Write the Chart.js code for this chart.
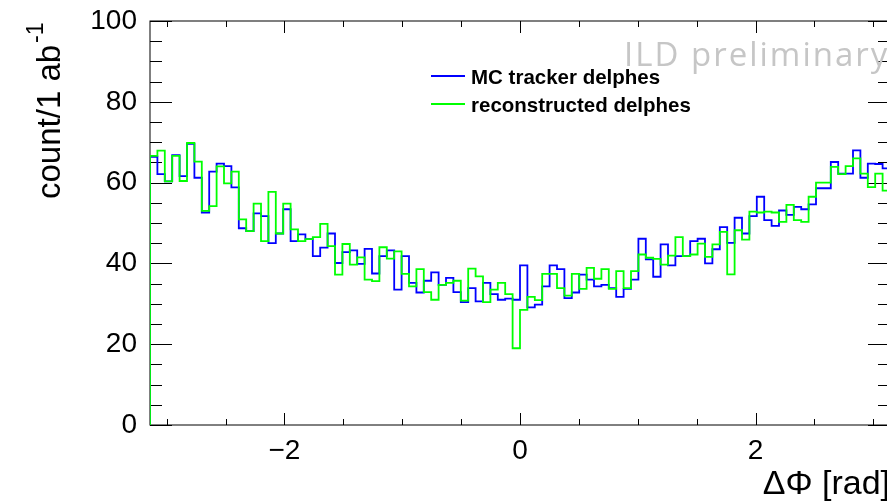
<!DOCTYPE html>
<html>
<head>
<meta charset="utf-8">
<title>Delta Phi distribution</title>
<script src="https://cdn.jsdelivr.net/npm/chart.js@4.4.1/dist/chart.umd.min.js"></script>
<style>
  html, body { margin: 0; padding: 0; background: #fff; overflow: hidden; }
  #wrap { width: 887px; height: 502px; overflow: hidden; }
  canvas { display: block; }
</style>
</head>
<body>
<div id="wrap"><canvas id="c" width="900" height="502"></canvas></div>
<script>
// Histogram binning: 100 bins over [-pi, pi]
const X_MIN = -Math.PI;
const X_MAX = Math.PI;

// Counts per bin (count / 1 ab^-1)
const mcTracker = [
  66.4, 62.1, 60.3, 66.8, 61.6, 69.6, 61.2, 52.6, 62.7, 64.7,
  64.1, 58.8, 48.7, 48.0, 52.4, 51.7, 45.0, 47.4, 53.4, 45.5,
  47.2, 46.0, 41.8, 43.9, 47.4, 40.1, 42.8, 43.2, 39.9, 43.6,
  37.5, 41.8, 43.2, 33.5, 41.8, 35.2, 32.8, 35.7, 37.8, 34.7,
  36.4, 32.9, 30.4, 33.9, 30.6, 35.2, 32.4, 31.0, 31.3, 31.0,
  39.5, 29.1, 29.8, 34.3, 39.5, 38.6, 31.4, 32.8, 37.2, 36.0,
  34.3, 34.7, 33.9, 31.7, 33.7, 36.0, 46.1, 41.0, 36.7, 44.7,
  39.5, 41.8, 41.8, 45.5, 46.1, 40.0, 43.5, 49.0, 45.1, 51.3,
  47.4, 51.7, 56.5, 50.7, 49.3, 53.1, 52.0, 54.0, 53.4, 54.6,
  58.6, 58.6, 65.1, 62.2, 62.2, 68.0, 61.2, 64.7, 64.6, 63.5
];
const reconstructed = [
  66.6, 67.9, 60.3, 66.6, 60.4, 69.8, 65.2, 53.0, 54.2, 64.0,
  59.8, 62.7, 50.9, 48.0, 54.8, 45.5, 57.7, 47.4, 54.8, 48.4,
  45.5, 46.0, 46.5, 49.8, 44.3, 37.2, 44.8, 39.7, 41.5, 36.0,
  35.6, 44.0, 41.2, 43.0, 37.4, 34.3, 38.6, 32.9, 31.0, 34.7,
  35.2, 35.7, 30.8, 38.7, 36.8, 30.4, 33.5, 35.2, 32.4, 19.0,
  28.5, 31.7, 30.9, 37.4, 37.4, 33.9, 32.0, 37.4, 33.7, 38.9,
  36.2, 38.6, 33.7, 38.1, 33.9, 38.1, 42.2, 41.4, 41.1, 39.7,
  41.9, 46.5, 41.8, 42.2, 44.9, 41.6, 44.7, 47.8, 37.3, 48.2,
  45.9, 52.8, 52.6, 52.8, 52.6, 50.3, 54.5, 50.7, 50.3, 56.5,
  60.0, 60.0, 63.9, 62.1, 64.1, 66.0, 62.2, 58.9, 62.2, 58.0
];

// Axis ticks
const xTickLabels = [-2, 0, 2];
const xMinorTicks = [-3, -2.5, -2, -1.5, -1, -0.5, 0, 0.5, 1, 1.5, 2, 2.5, 3];
const yTickLabels = [0, 20, 40, 60, 80, 100];
const yMinorTicks = [0, 5, 10, 15, 20, 25, 30, 35, 40, 45, 50, 55, 60, 65, 70, 75, 80, 85, 90, 95, 100];

const seriesNames = ['MC tracker delphes', 'reconstructed delphes'];
const seriesColors = ['#0000ff', '#00ff00'];

// Outline of a histogram: rise from zero at the first edge, one step per bin, drop at the last edge
function histogramOutline(values) {
  const width = (X_MAX - X_MIN) / values.length;
  const pts = [{ x: X_MIN, y: 0 }];
  values.forEach((v, i) => pts.push({ x: X_MIN + i * width, y: v }));
  pts.push({ x: X_MAX, y: values[values.length - 1] });
  pts.push({ x: X_MAX, y: 0 });
  return pts;
}

// Frame with inward ticks on all four sides, legend, watermark and axis title
const framePlugin = {
  id: 'frame',
  beforeDatasetsDraw(chart) {
    const { ctx, chartArea: a, scales: { x, y } } = chart;
    ctx.save();
    ctx.strokeStyle = '#000';
    ctx.lineWidth = 1;
    ctx.strokeRect(a.left, a.top, a.right - a.left, a.bottom - a.top);
    ctx.beginPath();
    yMinorTicks.forEach(v => {
      const py = Math.round(y.getPixelForValue(v)) + 0.5;
      const len = yTickLabels.includes(v) ? 22 : 12;
      ctx.moveTo(a.left, py); ctx.lineTo(a.left + len, py);
      ctx.moveTo(a.right, py); ctx.lineTo(a.right - len, py);
    });
    xMinorTicks.forEach(v => {
      const px = Math.round(x.getPixelForValue(v)) + 0.5;
      const len = xTickLabels.includes(v) ? 12 : 6;
      ctx.moveTo(px, a.bottom); ctx.lineTo(px, a.bottom - len);
      ctx.moveTo(px, a.top); ctx.lineTo(px, a.top + len);
    });
    ctx.stroke();
    ctx.restore();
  },
  afterDraw(chart) {
    const { ctx } = chart;
    ctx.save();

    // Legend
    ctx.lineWidth = 1.8;
    const legendRows = [76, 104];
    seriesNames.forEach((name, i) => {
      ctx.strokeStyle = seriesColors[i];
      ctx.beginPath();
      ctx.moveTo(431, legendRows[i]);
      ctx.lineTo(465, legendRows[i]);
      ctx.stroke();
      ctx.fillStyle = '#000';
      ctx.font = 'bold 20.5px "Liberation Sans", Arial, sans-serif';
      ctx.textAlign = 'left';
      ctx.textBaseline = 'alphabetic';
      ctx.fillText(name, 471, legendRows[i] + 7.5);
    });

    // Watermark
    ctx.fillStyle = '#c6c6c6';
    ctx.font = '33px "Open Sans", sans-serif';
    ctx.letterSpacing = '2px';
    ctx.fillText('ILD preliminary', 624, 66);
    ctx.letterSpacing = '0px';

    // Vertical axis title with superscript
    ctx.translate(60, 199);
    ctx.rotate(-Math.PI / 2);
    ctx.fillStyle = '#000';
    ctx.font = '33px "Liberation Sans", Arial, sans-serif';
    const main = 'count/1 ab';
    ctx.fillText(main, 0, 0);
    const w = ctx.measureText(main).width;
    ctx.font = '23px "Liberation Sans", Arial, sans-serif';
    ctx.fillText('-1', w + 2, -17);

    ctx.restore();
  }
};

new Chart(document.getElementById('c'), {
  type: 'line',
  data: {
    datasets: [
      {
        label: seriesNames[0],
        data: histogramOutline(mcTracker),
        borderColor: seriesColors[0],
        borderWidth: 1.8,
        pointRadius: 0,
        stepped: true,
        fill: false,
        order: 1
      },
      {
        label: seriesNames[1],
        data: histogramOutline(reconstructed),
        borderColor: seriesColors[1],
        borderWidth: 1.8,
        pointRadius: 0,
        stepped: true,
        fill: false,
        order: 0
      }
    ]
  },
  options: {
    responsive: false,
    animation: false,
    events: [],
    layout: { padding: { left: 0, right: 10, top: 21, bottom: 0 } },
    plugins: {
      legend: { display: false },
      tooltip: { enabled: false },
      title: { display: false }
    },
    scales: {
      x: {
        type: 'linear',
        min: X_MIN,
        max: X_MAX,
        afterBuildTicks: s => { s.ticks = xTickLabels.map(v => ({ value: v })); },
        afterFit: s => { s.height = 77; s.paddingLeft = 0; s.paddingRight = 0; },
        grid: { display: false, drawTicks: false },
        border: { display: false },
        ticks: {
          padding: 9,
          color: '#000',
          maxRotation: 0,
          autoSkip: false,
          font: { family: '"Liberation Sans", Arial, sans-serif', size: 28 },
          callback: v => (v < 0 ? '\u2212' + Math.abs(v) : String(v))
        },
        title: {
          display: true,
          text: '\u0394\u03a6 [rad]',
          align: 'end',
          color: '#000',
          padding: { top: 0, bottom: 0 },
          font: { family: '"Liberation Sans", Arial, sans-serif', size: 34, lineHeight: 1 }
        }
      },
      y: {
        min: 0,
        max: 100,
        afterBuildTicks: s => { s.ticks = yTickLabels.map(v => ({ value: v })); },
        afterFit: s => { s.width = 150; s.paddingTop = 0; s.paddingBottom = 0; },
        grid: { display: false, drawTicks: false },
        border: { display: false },
        ticks: {
          padding: 13,
          color: '#000',
          font: { family: '"Liberation Sans", Arial, sans-serif', size: 28 }
        }
      }
    }
  },
  plugins: [framePlugin]
});
</script>
</body>
</html>
